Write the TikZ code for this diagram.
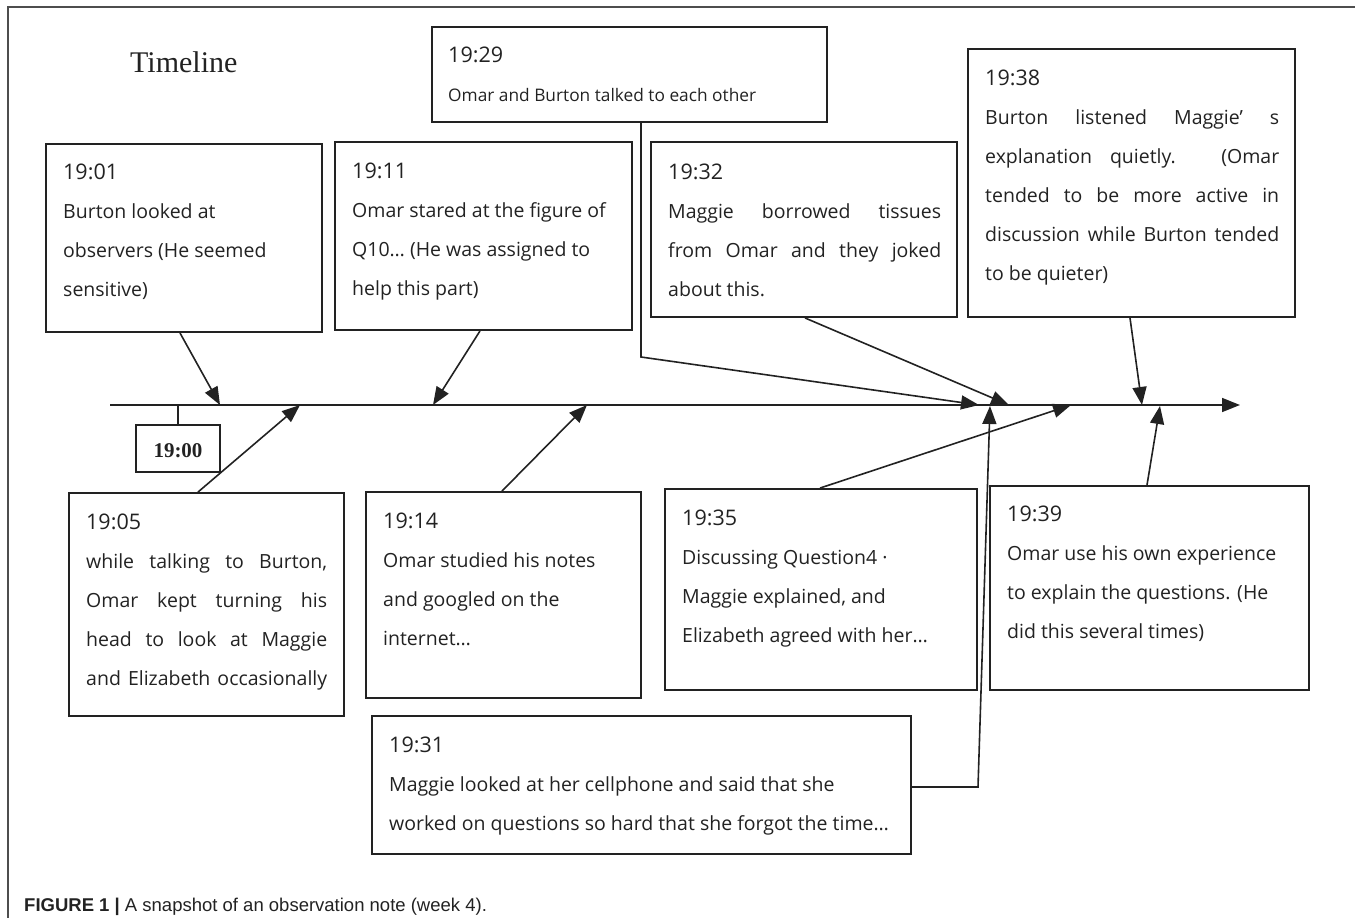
\documentclass[tikz,border=0pt]{standalone}
\usepackage{fontspec}
\setmainfont{Open Sans}
\newfontfamily\serifF{Liberation Serif}
\newfontfamily\capF{Liberation Sans}
\usetikzlibrary{arrows.meta,calc}
\definecolor{ink}{HTML}{222222}
\newcommand{\stamp}[1]{{\fontsize{21.5}{39}\selectfont #1}}
\begin{document}
\begin{tikzpicture}[x=1pt,y=-1pt,
  box/.style={draw=ink, line width=1.9pt, inner sep=0pt},
  txt/.style={anchor=base west, inner sep=0pt, align=left, text=ink,
    font=\fontsize{19.5}{39}\selectfont},
  conn/.style={line width=1.6pt, draw=ink, -{Triangle[length=18pt,width=14pt]}},
  plainline/.style={line width=1.6pt, draw=ink}]
\useasboundingbox (0,0) rectangle (1355,918);
% frame
\draw[line width=1.4pt, draw=ink!80] (8,918) -- (8,7) -- (1355,7);
% title
\node[anchor=base west, inner sep=0pt, text=ink] (title) at (130,72) {\serifF\fontsize{30}{32}\selectfont Timeline};
% boxes
\node[box, minimum width=276pt, minimum height=188pt] (b0101) at (184,238) {};
\node[box, minimum width=297pt, minimum height=188pt] (b0111) at (483.5,236) {};
\node[box, minimum width=395pt, minimum height=95pt]  (b1929) at (629.5,74.5) {};
\node[box, minimum width=306pt, minimum height=175pt] (b1932) at (804,229.5) {};
\node[box, minimum width=327pt, minimum height=268pt] (b1938) at (1131.5,183) {};
\node[box, minimum width=275pt, minimum height=223pt] (b1905) at (206.5,604.5) {};
\node[box, minimum width=275pt, minimum height=206pt] (b1914) at (503.5,595) {};
\node[box, minimum width=312pt, minimum height=201pt] (b1935) at (821,589.5) {};
\node[box, minimum width=319pt, minimum height=204pt] (b1939) at (1149.5,588) {};
\node[box, minimum width=539pt, minimum height=138pt] (b1931) at (641.5,785) {};
\node[box, minimum width=84pt, minimum height=47pt] (b1900) at (178,448.5) {};
\node[inner sep=0pt, text=ink] (l1900) at (178,451) {\serifF\bfseries\fontsize{21}{24}\selectfont 19:00};
% texts (anchor = baseline of the last line)
\node[txt] (t0101) at (63,296) {\stamp{19:01}\\Burton looked at\\observers (He seemed\\sensitive)};
\node[txt] (t0111) at (352,295) {\stamp{19:11}\\Omar stared at the figure of\\Q10… (He was assigned to\\help this part)};
\node[txt] (t1929) at (448,101) {\stamp{19:29}\\\fontsize{17.3}{39}\selectfont Omar and Burton talked to each other};
\node[txt] (t1932) at (668,296) {\stamp{19:32}\\\makebox[273pt][s]{Maggie borrowed tissues}\\\makebox[273pt][s]{from Omar and they joked}\\about this.};
\node[txt] (t1938) at (985,280) {\stamp{19:38}\\\makebox[294pt][s]{Burton listened Maggie’ s}\\\makebox[294pt][s]{explanation quietly. (Omar}\\\makebox[294pt][s]{tended to be more active in}\\\makebox[294pt][s]{discussion while Burton tended}\\to be quieter)};
\node[txt] (t1905) at (86,685) {\stamp{19:05}\\\makebox[241pt][s]{while talking to Burton,}\\\makebox[241pt][s]{Omar kept turning his}\\\makebox[241pt][s]{head to look at Maggie}\\\makebox[241pt][s]{and Elizabeth occasionally}};
\node[txt] (t1914) at (383,645) {\stamp{19:14}\\Omar studied his notes\\and googled on the\\internet…};
\node[txt] (t1935) at (682,642) {\stamp{19:35}\\Discussing Question4 ·\\Maggie explained, and\\Elizabeth agreed with her…};
\node[txt] (t1939) at (1007,638) {\stamp{19:39}\\Omar use his own experience\\to explain the questions. (He\\did this several times)};
\node[txt] (t1931) at (389,830) {\stamp{19:31}\\Maggie looked at her cellphone and said that she\\worked on questions so hard that she forgot the time…};
% timeline
\coordinate (tl0) at (110,405);
\coordinate (tl1) at (1240,405);
\draw[conn] (tl0) -- (tl1);
\coordinate (tick) at (178,405);
\draw[plainline] (tick) -- (b1900.north);
% targets
\coordinate (a0101) at (220,405);
\coordinate (a1905) at (300,405);
\coordinate (a0111) at (433,405);
\coordinate (a1914) at (587,405);
\coordinate (a1929) at (979,405);
\coordinate (a1931) at (990,406);
\coordinate (a1932) at (1009,405);
\coordinate (a1935) at (1071,405);
\coordinate (a1938) at (1142,405);
\coordinate (a1939) at (1160,406);
% bends
\coordinate (k1929) at (641,357);
\coordinate (k1931) at (978,787);
% connectors
\draw[conn] ([xshift=-4pt]b0101.south) -- (a0101);
\draw[conn] ([xshift=-8.5pt]b1905.north) -- (a1905);
\draw[conn] ([xshift=-3.5pt]b0111.south) -- (a0111);
\draw[conn] ([xshift=-1.5pt]b1914.north) -- (a1914);
\draw[conn] ([xshift=11.5pt]b1929.south) -- (k1929) -- (a1929);
\draw[conn] ([xshift=1pt]b1932.south) -- (a1932);
\draw[conn] ([yshift=-2pt]b1931.east) -- (k1931) -- (a1931);
\draw[conn] ([xshift=-1pt]b1935.north) -- (a1935);
\draw[conn] ([xshift=-1.5pt]b1938.south) -- (a1938);
\draw[conn] ([xshift=-2.5pt]b1939.north) -- (a1939);
% caption
\node[anchor=base west, inner sep=0pt, text=ink] (cap) at (24,911) {\capF\fontsize{18.5}{20}\selectfont\textbf{FIGURE 1 |} A snapshot of an observation note (week 4).};
\end{tikzpicture}
\end{document}
